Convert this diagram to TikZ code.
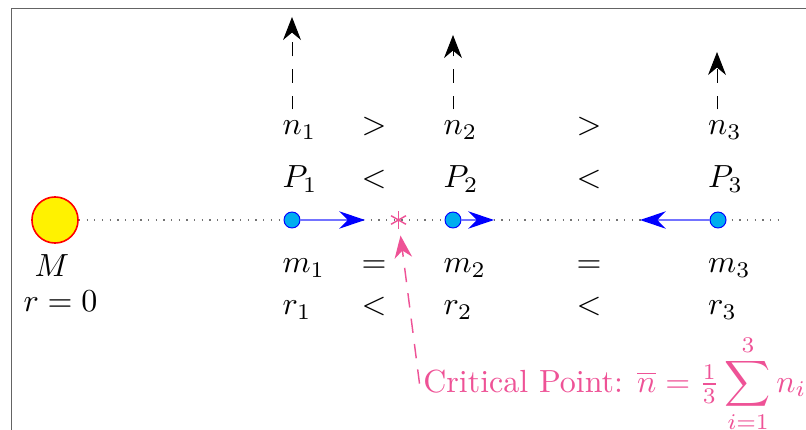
\documentclass[tikz,border=0pt]{standalone}
\usetikzlibrary{arrows.meta}
\definecolor{critpink}{RGB}{238,82,150}
\definecolor{framegray}{RGB}{100,100,100}
\begin{document}
\begin{tikzpicture}[x=0.3125pt,y=-0.3125pt,
  framestyle/.style={draw=framegray, line width=0.6pt},
  sun/.style={circle, draw=red, fill=yellow, line width=0.5pt, minimum size=14.4pt, inner sep=0pt},
  particle/.style={circle, draw=blue, fill=cyan, line width=0.3pt, minimum size=5pt, inner sep=0pt},
  lbl/.style={inner sep=0pt, anchor=base west},
  rel/.style={inner sep=0pt, anchor=base},
  axisline/.style={dotted, draw=black!55, line width=0.4pt},
  velarrow/.style={draw=blue!55, line width=0.8pt,
    -{Stealth[length=8pt, width=5.4pt, color=blue]}},
  uparrow/.style={draw=black, line width=0.3pt, dash pattern=on 4.3pt off 4pt,
    -{Stealth[length=7.2pt, width=5.6pt]}, shorten <=3.5pt},
  critarrow/.style={draw=critpink, line width=0.45pt, dash pattern=on 4.5pt off 3.5pt,
    -{Stealth[length=7pt, width=5.5pt]}, shorten >=2.2pt},
  starmark/.style={circle, minimum size=5pt, inner sep=0pt},
  starline/.style={draw=critpink, line width=0.45pt}
]
\useasboundingbox (0,0) rectangle (806,430);
\draw[framestyle] (11.5,460) -- (11.5,8.5) -- (840,8.5);

% central mass and axis
\node[sun] (M) at (55,220) {};
\coordinate (axend) at (783,220);
\draw[axisline] (M) -- (axend);
\node[rel] (Mlab) at (52,277) {$M$};
\node[rel] (r0) at (60.5,311) {$r=0$};

% particles
\node[particle] (p1) at (292,220) {};
\node[particle] (p2) at (453,220) {};
\node[particle] (p3) at (718,220) {};

% velocity arrows
\coordinate (v1) at (365,220);
\coordinate (v2) at (494,220);
\coordinate (v3) at (640,220);
\draw[velarrow] (p1) -- (v1);
\draw[velarrow] (p2) -- (v2);
\draw[velarrow] (p3) -- (v3);

% critical point mark
\node[starmark] (cp) at (398.5,220) {};
\draw[starline] (cp.90) -- (cp.270);
\draw[starline] (cp.30) -- (cp.210);
\draw[starline] (cp.150) -- (cp.330);

% labels column 1
\node[lbl] (n1) at (282,135) {$n_1$};
\node[lbl] (P1) at (282,187.5) {$P_1$};
\node[lbl] (m1) at (282,273) {$m_1$};
\node[lbl] (r1) at (282,315) {$r_1$};
% column 2
\node[lbl] (n2) at (443,135) {$n_2$};
\node[lbl] (P2) at (443,187.5) {$P_2$};
\node[lbl] (m2) at (443,273) {$m_2$};
\node[lbl] (r2) at (443,315) {$r_2$};
% column 3
\node[lbl] (n3) at (707.5,135) {$n_3$};
\node[lbl] (P3) at (707.5,187.5) {$P_3$};
\node[lbl] (m3) at (707.5,273) {$m_3$};
\node[lbl] (r3) at (707.5,315) {$r_3$};

% relations
\node[rel] (gA) at (374,135) {$>$};
\node[rel] (gB) at (589,135) {$>$};
\node[rel] (lA) at (374,187.5) {$<$};
\node[rel] (lB) at (589,187.5) {$<$};
\node[rel] (eA) at (374,273) {$=$};
\node[rel] (eB) at (589,273) {$=$};
\node[rel] (sA) at (374,315) {$<$};
\node[rel] (sB) at (589,315) {$<$};

% upward dashed arrows
\coordinate (u1) at (292,17);
\coordinate (u2) at (453,35);
\coordinate (u3) at (717,52);
\draw[uparrow] (n1.north -| p1) -- (u1);
\draw[uparrow] (n2.north -| p2) -- (u2);
\draw[uparrow] (n3.north -| u3) -- (u3);

% critical point label
\node[inner sep=1pt, anchor=base west, text=critpink] (crit) at (419.5,392)
  {Critical Point: $\overline{n}={\textstyle\frac{1}{3}}\displaystyle\sum_{i=1}^{3} n_i$};
\draw[critarrow] (crit.west) -- (cp);
\end{tikzpicture}
\end{document}
